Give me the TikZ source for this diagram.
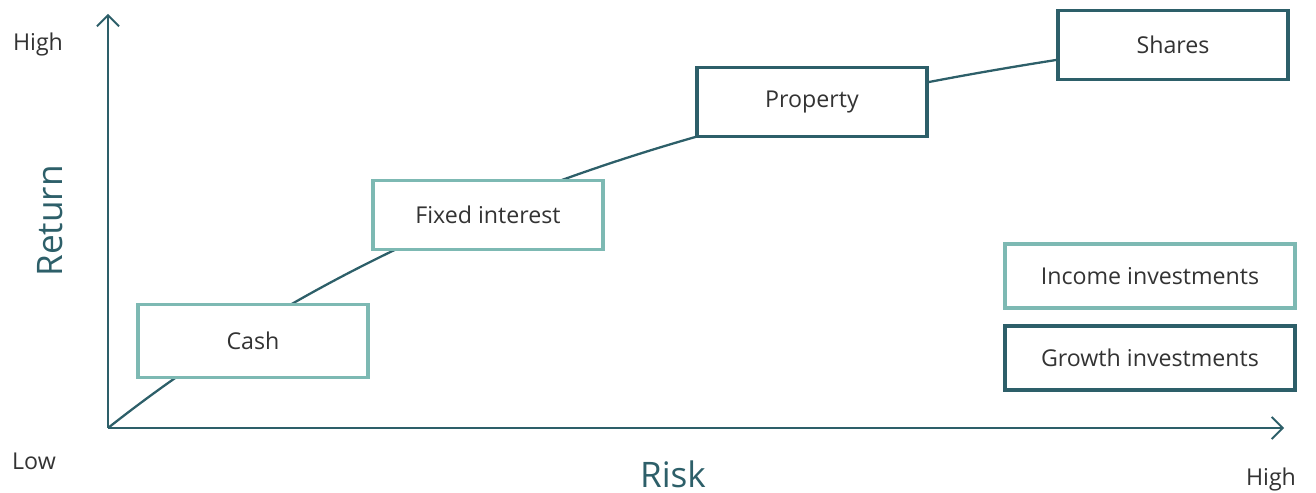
\documentclass[tikz,border=0pt]{standalone}
\usepackage{fontspec}
\setmainfont{Open Sans}
\usepackage{xcolor}
\usepackage{tikz}
\usetikzlibrary{arrows.meta}
\usetikzlibrary{positioning,backgrounds}
\definecolor{growthteal}{HTML}{2D5F69}
\definecolor{incometeal}{HTML}{7DB9B3}
\definecolor{labelgrey}{HTML}{333333}
\tikzset{>={Straight Barb[length=2.2mm,width=4.4mm,line width=1.1pt]}}
\tikzset{risk-axis/.style={line width=1.6pt, draw=growthteal}}
\tikzset{risk-curve/.style={line width=1.3pt, draw=growthteal}}
\tikzset{asset-income/.style={draw=incometeal, fill=white, line width=2.2pt, inner sep=0, minimum width=4.6cm, minimum height=1.38cm, text=labelgrey, font=\fontsize{13.2}{16}\selectfont}}
\tikzset{asset-growth/.style={asset-income, draw=growthteal}}
\tikzset{axis-end/.style={text=labelgrey, font=\fontsize{13.2}{16}\selectfont}}
\tikzset{axis-title/.style={text=growthteal, font=\fontsize{20}{24}\selectfont}}

\begin{document}
\begin{tikzpicture}[x=0.02cm, y=-0.02cm]
            \useasboundingbox (0,0) rectangle (1316,493);

            \coordinate (origin) at (108,428);
            \coordinate (risktop) at (108,14);
            \coordinate (riskend) at (1284,428);

            \node[asset-income, minimum height=1.46cm] (cash) at (253,341) {Cash};
            \node[asset-income] (fixed) at (488,215) {Fixed interest};
            \node[asset-growth] (property) at (812,102) {Property};
            \node[asset-growth] (shares) at (1173,45) {Shares};
            \coordinate (sharesin) at ([yshift=-0.3cm]shares.west);

            \node[asset-income, minimum width=5.8cm, minimum height=1.28cm] (income) at (1150,276) {Income investments};
            \node[asset-growth, minimum width=5.8cm, minimum height=1.28cm, below=0.28cm of income] (growth) {Growth investments};

            \draw[->, risk-axis] (origin) -- (risktop);
            \draw[->, risk-axis] (origin) -- (riskend);

            \begin{scope}[on background layer]
                \draw[risk-curve] (origin)
                    .. controls (408,191) and (757,107) ..
                    (sharesin);
            \end{scope}

            \node[axis-end] (returnhigh) at (38,44) {High};
            \node[axis-end] (risklow) at (34,461) {Low};
            \node[axis-end] (riskhigh) at (1271,479) {High};
            \node[axis-title, rotate=90] (returnlabel) at (50,221) {Return};
            \node[axis-title] (risklabel) at (673,474) {Risk};

        \end{tikzpicture}
\end{document}
